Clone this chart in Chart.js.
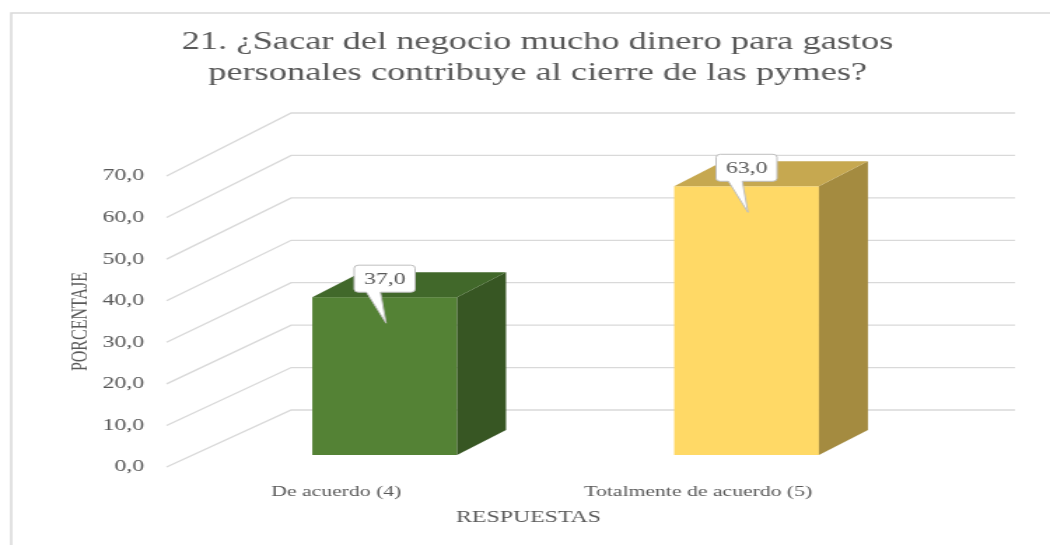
<!DOCTYPE html>
<html>
<head>
<meta charset="utf-8">
<script src="https://cdn.jsdelivr.net/npm/chart.js@4.4.1/dist/chart.umd.min.js"></script>
<style>
  html, body { margin: 0; padding: 0; background: #fff; overflow: hidden; }
  /* el original está estirado a lo ancho */
  #caja { width: 750px; height: 545px; transform: scaleX(1.4); transform-origin: 0 0; }
</style>
</head>
<body>
<div id="caja"><canvas id="grafico"></canvas></div>
<script>
const categorias = ['De acuerdo (4)', 'Totalmente de acuerdo (5)'];
const porcentajes = [37.0, 63.0];
const marcasY = [0, 10, 20, 30, 40, 50, 60, 70];
const titulo = ['21. ¿Sacar del negocio mucho dinero para gastos', 'personales contribuye al cierre de las pymes?'];

const coloresFrente = ['#548235', '#FFD966'];
const coloresTapa = ['#41682A', '#C6A850'];
const coloresLado = ['#375623', '#A48B40'];

const GRIS_TEXTO = '#595959';
const FUENTE = "'Liberation Serif', serif";

function coma(v) {
    return v.toFixed(1).replace('.', ',');
}

// dibuja las paredes, las barras en 3D, las etiquetas y el título
const efecto3d = {
    id: 'efecto3d',
    beforeDraw(chart) {
        const ctx = chart.ctx;
        ctx.save();
        ctx.fillStyle = '#fff';
        ctx.fillRect(0, 0, chart.width, chart.height);
        ctx.strokeStyle = '#d9d9d9';
        ctx.lineWidth = 1.5;
        ctx.beginPath();
        ctx.moveTo(8, chart.height);
        ctx.lineTo(8, 13);
        ctx.lineTo(chart.width, 13);
        ctx.stroke();
        ctx.restore();
    },
    afterDraw(chart) {
        const ctx = chart.ctx;
        ctx.save();
        ctx.fillStyle = GRIS_TEXTO;
        ctx.font = 'normal 26px ' + FUENTE;
        ctx.textAlign = 'center';
        ctx.textBaseline = 'middle';
        titulo.forEach((linea, k) => {
            ctx.fillText(linea, chart.width / 2 + 9, 42 + k * 31.2);
        });
        ctx.restore();
    },
    beforeDatasetsDraw(chart) {
        const { ctx, chartArea } = chart;
        const y = chart.scales.y;
        ctx.save();
        ctx.strokeStyle = '#d9d9d9';
        ctx.lineWidth = 1.3;
        marcasY.forEach(v => {
            const yf = y.getPixelForValue(v);
            const yb = yf - (57 + v * 6 / 70);
            ctx.beginPath();
            ctx.moveTo(chartArea.left, yf);
            ctx.lineTo(chartArea.left + 89, yb);
            ctx.lineTo(725, yb);
            ctx.stroke();
        });
        ctx.restore();
    },
    afterDatasetsDraw(chart) {
        const ctx = chart.ctx;
        const meta = chart.getDatasetMeta(0);
        const fx = 35, fy = -25;
        ctx.save();
        meta.data.forEach((bar, i) => {
            const w = bar.width;
            const cx = bar.x + 26.5;
            const abajo = bar.base - 12;
            const arriba = abajo - (bar.base - bar.y) * 1.026;
            const izq = cx - w / 2, der = cx + w / 2;

            // cara frontal
            ctx.fillStyle = coloresFrente[i];
            ctx.fillRect(izq, arriba, w, abajo - arriba);
            // lado
            ctx.fillStyle = coloresLado[i];
            ctx.beginPath();
            ctx.moveTo(der, abajo);
            ctx.lineTo(der + fx, abajo + fy);
            ctx.lineTo(der + fx, arriba + fy);
            ctx.lineTo(der, arriba);
            ctx.closePath();
            ctx.fill();
            // tapa
            ctx.fillStyle = coloresTapa[i];
            ctx.beginPath();
            ctx.moveTo(izq, arriba);
            ctx.lineTo(izq + fx, arriba + fy);
            ctx.lineTo(der + fx, arriba + fy);
            ctx.lineTo(der, arriba);
            ctx.closePath();
            ctx.fill();

            // globo con el valor
            const bw = 43.5, bh = 27, r = 3;
            const B = arriba - 5, T = B - bh;
            const L = cx - bw / 2, R = cx + bw / 2;
            ctx.beginPath();
            ctx.moveTo(L + r, T);
            ctx.lineTo(R - r, T);
            ctx.arcTo(R, T, R, T + r, r);
            ctx.lineTo(R, B - r);
            ctx.arcTo(R, B, R - r, B, r);
            ctx.lineTo(cx - 3, B);
            ctx.lineTo(cx + 1, arriba + 26);
            ctx.lineTo(cx - 13, B);
            ctx.lineTo(L + r, B);
            ctx.arcTo(L, B, L, B - r, r);
            ctx.lineTo(L, T + r);
            ctx.arcTo(L, T, L + r, T, r);
            ctx.closePath();
            ctx.fillStyle = '#fff';
            ctx.fill();
            ctx.strokeStyle = '#bfbfbf';
            ctx.lineWidth = 1;
            ctx.stroke();

            ctx.fillStyle = GRIS_TEXTO;
            ctx.font = 'normal 17px ' + FUENTE;
            ctx.textAlign = 'center';
            ctx.textBaseline = 'middle';
            ctx.fillText(coma(porcentajes[i]), cx, (T + B) / 2 + 1);
        });
        ctx.restore();
    }
};

Chart.defaults.font.family = FUENTE;
Chart.defaults.color = GRIS_TEXTO;

new Chart(document.getElementById('grafico'), {
    type: 'bar',
    data: {
        labels: categorias,
        datasets: [{
            data: porcentajes,
            backgroundColor: 'rgba(0,0,0,0)',
            barPercentage: 0.4,
            categoryPercentage: 1
        }]
    },
    options: {
        responsive: true,
        maintainAspectRatio: false,
        animation: false,
        events: [],
        layout: { padding: { left: 18, right: 0, top: 176, bottom: 17 } },
        plugins: {
            legend: { display: false },
            tooltip: { enabled: false },
            title: { display: false }
        },
        scales: {
            x: {
                grid: { display: false, drawTicks: false },
                border: { display: false },
                afterFit: s => { s.height = 61; },
                ticks: { padding: 16, labelOffset: -8, maxRotation: 0, font: { size: 15.5 }, color: GRIS_TEXTO },
                title: {
                    display: true,
                    text: 'RESPUESTAS',
                    color: GRIS_TEXTO,
                    font: { size: 17 },
                    padding: { top: 4, bottom: 0 }
                }
            },
            y: {
                min: 0,
                max: 70,
                grid: { display: false, drawTicks: false },
                border: { display: false },
                afterBuildTicks: s => { s.ticks = marcasY.map(v => ({ value: v })); },
                afterFit: s => { s.width = 101; },
                ticks: {
                    padding: 16,
                    font: { size: 17 },
                    color: GRIS_TEXTO,
                    callback: v => coma(v)
                },
                title: {
                    display: true,
                    text: 'PORCENTAJE',
                    color: GRIS_TEXTO,
                    font: { size: 16 },
                    padding: { top: 30, bottom: 0 }
                }
            },
            relleno: {
                type: 'linear',
                position: 'right',
                grid: { display: false },
                border: { display: false },
                ticks: { display: false },
                afterFit: s => { s.width = 114; }
            }
        }
    },
    plugins: [efecto3d]
});
</script>
</body>
</html>
